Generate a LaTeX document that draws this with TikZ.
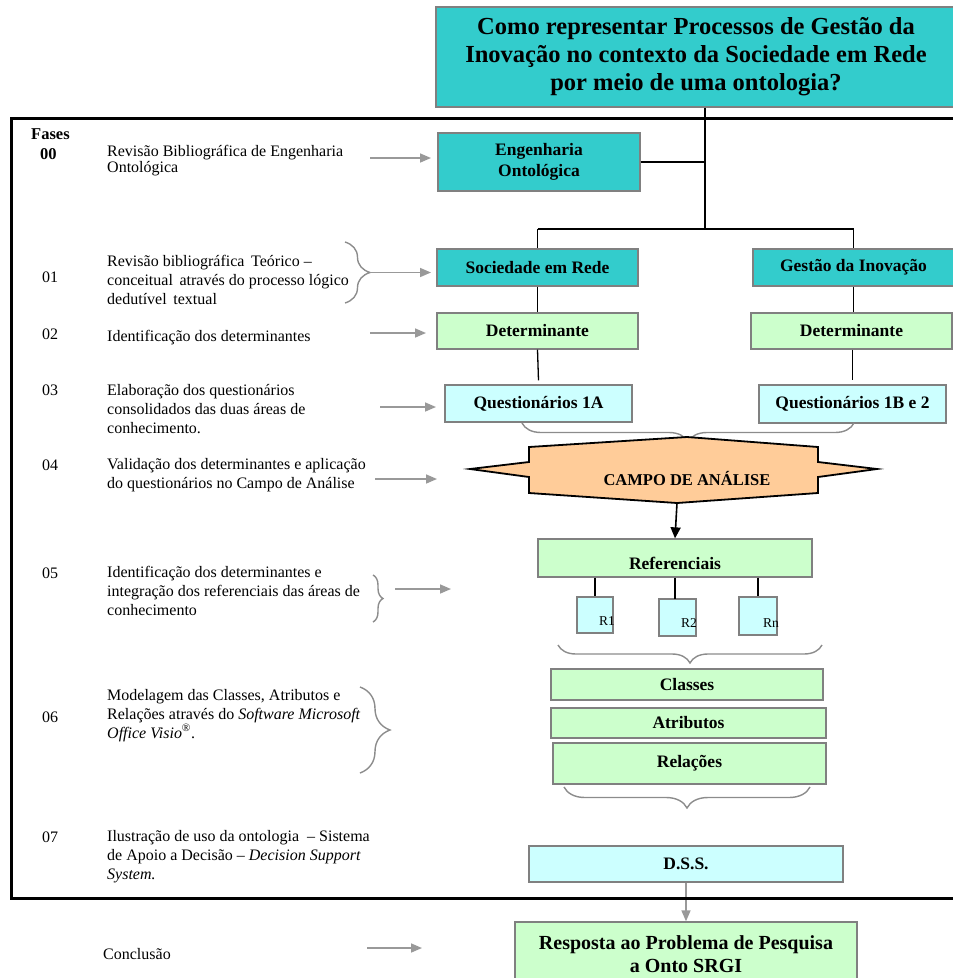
\documentclass[tikz,border=0pt]{standalone}
\usepackage{fontspec}
\setmainfont{Liberation Serif}
\usetikzlibrary{arrows.meta,decorations.pathreplacing,calc}

\definecolor{tealfill}{HTML}{33CCCC}
\definecolor{greenfill}{HTML}{CCFFCC}
\definecolor{cyanfill}{HTML}{CCFFFF}
\definecolor{peachfill}{HTML}{FFCC99}
\definecolor{boxline}{HTML}{808080}
\definecolor{arrowgray}{HTML}{999999}
\definecolor{bracegray}{HTML}{8C8C8C}

\tikzset{
  box/.style={draw=boxline, line width=1.3pt, inner sep=0pt, align=center,
    font=\fontsize{17.5}{21}\selectfont\bfseries},
  tealbox/.style={box, fill=tealfill},
  greenbox/.style={box, fill=greenfill},
  cyanbox/.style={box, fill=cyanfill},
  link/.style={line width=1.3pt, draw=black},
  grayarrow/.style={draw=arrowgray, line width=1.6pt,
    -{Triangle[length=11pt,width=9pt]}, color=arrowgray},
  graybrace/.style={decorate, decoration={brace, amplitude=#1},
    draw=bracegray, line width=1.4pt},
  graybracedown/.style={decorate, decoration={brace, amplitude=#1, mirror},
    draw=bracegray, line width=1.4pt},
  % multi-line descriptions are placed by the baseline of their last line
  phase/.style={anchor=base west, align=left, inner sep=0pt,
    font=\fontsize{16}{19}\selectfont},
  phasenum/.style={anchor=base west, inner sep=0pt,
    font=\fontsize{16}{19}\selectfont},
  rlabel/.style={inner sep=0pt, font=\fontsize{13.5}{16}\selectfont},
}

\begin{document}
\begin{tikzpicture}[x=1pt, y=-1pt]
\useasboundingbox (0,0) rectangle (953,978);

% ---- research question ----
\node[tealbox, minimum width=520, minimum height=100,
  font=\fontsize{24.5}{28}\selectfont\bfseries] (title) at (696,57)
  {Como representar Processos de Gestão da\\Inovação no contexto da Sociedade em Rede\\por meio de uma ontologia?};

% ---- right column: boxes ----
\node[tealbox, minimum width=202, minimum height=58] (eng) at (539,162) {Engenharia\\Ontológica};
\node[tealbox, minimum width=201, minimum height=37] (soc) at (537.5,267.5) {Sociedade em Rede};
\node[tealbox, minimum width=201, minimum height=37] (gest) at (853.5,267.5) {Gestão da Inovação};
\node[greenbox, minimum width=201, minimum height=36] (det1) at (537.5,331) {Determinante};
\node[greenbox, minimum width=201, minimum height=36] (det2) at (851.5,331) {Determinante};
\node[cyanbox, minimum width=187, minimum height=37] (q1) at (538.5,403.5) {Questionários 1A};
\node[cyanbox, minimum width=187, minimum height=38] (q2) at (852.5,404) {Questionários 1B e 2};

% hub of the tree below the question
\coordinate (hub) at (705,229);
\coordinate (hubL) at (537.5,229);
\coordinate (hubR) at (853.5,229);
\draw[link] (title.south -| hub) -- (hub);
\draw[link] (eng.east) -- (eng.east -| hub);
\draw[link] (hubL) -- (hubR);
\draw[link] (hubL) -- (soc.north);
\draw[link] (hubR) -- (gest.north);
\draw[link] (soc.south) -- (det1.north);
\draw[link] (gest.south) -- (gest.south |- det2.north);
\draw[link] (det1.south) -- ($(q1.north)+(0,-4)$);
\draw[link] (det2.south -| q2.north) -- ($(q2.north)+(0,-4)$);

% brace joining both questionnaires
\draw[graybracedown=19pt] (522,423) -- (854,423);

% ---- analysis field (star shape) ----
\coordinate (campotop) at (687,437);
\coordinate (campobot) at (677,503);
\draw[fill=peachfill, draw=black, line width=1.8pt, line join=miter]
  (529,447) -- (campotop) -- (818,447) -- (818,462) -- (877,469) -- (818,477)
  -- (818,493) -- (campobot) -- (529,493) -- (529,477) -- (470,469) -- (529,462) -- cycle;
\node[inner sep=0pt, font=\fontsize{16.5}{19}\selectfont\bfseries] (campo) at (687,478) {CAMPO DE ANÁLISE};

% ---- references ----
\node[greenbox, minimum width=274, minimum height=38] (ref) at (675,558) {\raisebox{-11pt}[0pt][0pt]{Referenciais}};
\draw[line width=1.6pt, -{Triangle[length=11pt,width=10pt]}] (campobot) -- (ref.north);

\node[cyanbox, minimum width=36, minimum height=36] (r1) at (595,615) {};
\node[cyanbox, minimum width=37, minimum height=37] (r2) at (677.5,617.5) {};
\node[cyanbox, minimum width=38, minimum height=38] (rn) at (758,616) {};
\node[rlabel] (r1t) at (607,621) {R1};
\node[rlabel] (r2t) at (689,623) {R2};
\node[rlabel] (rnt) at (771,623) {Rn};
\draw[link] (ref.south -| r1) -- (r1.north);
\draw[link] (ref.south -| 675,0) -- (675,599);
\draw[link] (ref.south -| rn) -- (rn.north);

\draw[graybracedown=18pt] (558,645) -- (822,645);

% ---- model elements ----
\node[greenbox, minimum width=272, minimum height=31] (classes) at (687,684.5) {Classes};
\node[greenbox, minimum width=275, minimum height=30] (attr) at (688.5,723) {Atributos};
\node[greenbox, minimum width=273, minimum height=41] (rel) at (689.5,763.5) {Relações};
\draw[graybracedown=21pt] (564,787) -- (810,787);

% ---- decision support system and conclusion ----
\node[cyanbox, minimum width=314, minimum height=36] (dss) at (686,864) {D.S.S.};
\node[greenbox, minimum width=342, minimum height=64,
  font=\fontsize{20}{23}\selectfont\bfseries] (resp) at (686,954)
  {Resposta ao Problema de Pesquisa\\a Onto SRGI};
\draw[grayarrow] (dss.south) -- (resp.north);

% ---- frame of the phases ----
\draw[line width=3pt, line join=miter] (960,118) -- (11.5,118) -- (11.5,898) -- (960,898);

% ---- left column: phases ----
\node[anchor=base west, inner sep=0pt, font=\fontsize{16.5}{19}\selectfont\bfseries] (fases) at (31,139) {Fases};
\node[anchor=base west, inner sep=0pt, font=\fontsize{16.5}{19}\selectfont\bfseries] (n00) at (40,159) {00};
\node[phase, font=\fontsize{16}{16}\selectfont] (t00) at (107,172) {Revisão Bibliográfica de Engenharia\\Ontológica};

\node[phasenum] (n01) at (42,282) {01};
\node[phase] (t01) at (107,304) {Revisão bibliográfica\,\ Teórico –\\conceitual\,\ através do processo lógico\\dedutível\,\ textual};

\node[phasenum] (n02) at (42,339) {02};
\node[phase] (t02) at (107,341) {Identificação dos determinantes};

\node[phasenum] (n03) at (42,395) {03};
\node[phase] (t03) at (107,433) {Elaboração dos questionários\\consolidados das duas áreas de\\conhecimento.};

\node[phasenum] (n04) at (42,470) {04};
\node[phase] (t04) at (107,488) {Validação dos determinantes e aplicação\\do questionários no Campo de Análise};

\node[phasenum] (n05) at (42,578) {05};
\node[phase] (t05) at (107,615) {Identificação dos determinantes e\\integração dos referenciais das áreas de\\conhecimento};

\node[phasenum] (n06) at (42,722) {06};
\node[phase] (t06) at (107,738) {Modelagem das Classes, Atributos e\\Relações\ através do \textit{Software Microsoft}\\\textit{Office Visio}\textsuperscript{\textregistered}.};

\node[phasenum] (n07) at (42,842) {07};
\node[phase] (t07) at (107,879) {Ilustração de uso da ontologia\ \ – Sistema\\de Apoio a Decisão – \textit{Decision Support}\\\textit{System.}};

\node[phase] (conc) at (103,959) {Conclusão};

% braces grouping phase descriptions
\draw[graybrace=25pt] (345,242) -- (345,303);
\draw[graybrace=10pt] (373,575) -- (373,622);
\draw[graybrace=30pt] (360,687) -- (360,773);

% arrows from phases towards the boxes
\coordinate (a00s) at (370,158); \coordinate (a00e) at (431,158);
\coordinate (a01s) at (370,272.5); \coordinate (a01e) at (431,272.5);
\coordinate (a02s) at (370,333); \coordinate (a02e) at (426,333);
\coordinate (a03s) at (380,407); \coordinate (a03e) at (436,407);
\coordinate (a04s) at (375,479); \coordinate (a04e) at (437,479);
\coordinate (a05s) at (395,589); \coordinate (a05e) at (451,589);
\coordinate (a08s) at (367,948); \coordinate (a08e) at (422,948);
\foreach \p in {00,01,02,03,04,05,08}
  \draw[grayarrow] (a\p s) -- (a\p e);
\end{tikzpicture}
\end{document}
